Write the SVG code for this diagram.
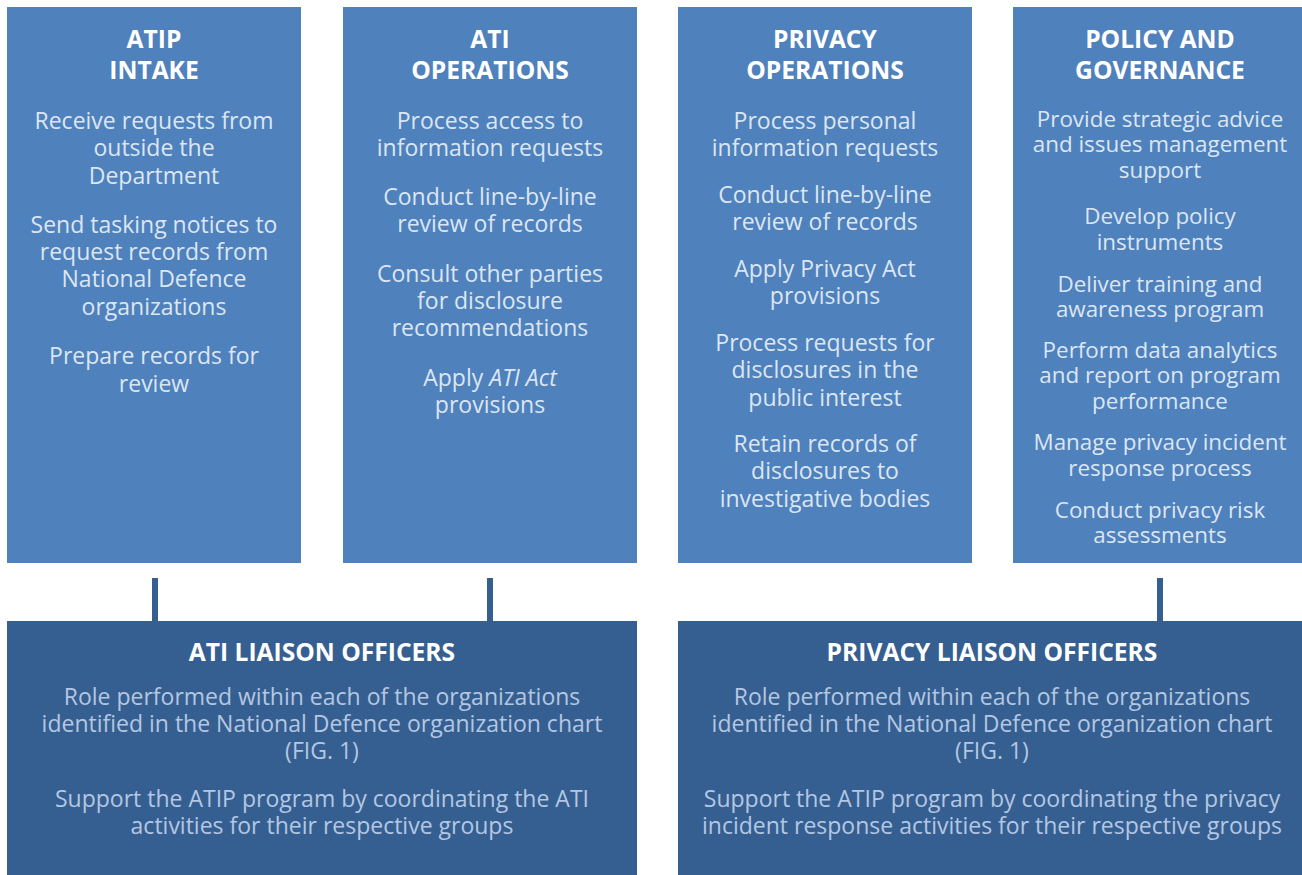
<svg xmlns="http://www.w3.org/2000/svg" width="1302" height="875" viewBox="0 0 1302 875">
  <style>
    .top { fill: #4F81BD; }
    .bottom { fill: #365F91; }
    .title { font-family: "Open Sans", "Liberation Sans", sans-serif; font-weight: 700; font-size: 24.6px; fill: #FFFFFF; text-anchor: middle; }
    .body { font-family: "Open Sans", "Liberation Sans", sans-serif; font-size: 23px; fill: #DCE6F2; text-anchor: middle; }
    .body4 { font-family: "Open Sans", "Liberation Sans", sans-serif; font-size: 22.4px; fill: #DCE6F2; text-anchor: middle; }
    .lbody { font-family: "Open Sans", "Liberation Sans", sans-serif; font-size: 23px; fill: #B4C7E2; text-anchor: middle; }
    .link { stroke: #365F91; stroke-width: 6; fill: none; }
  </style>
  <rect width="1302" height="875" fill="#FFFFFF"/>

  <!-- vertical links from the units down to the liaison officer boxes -->
  <g id="connectors">
    <line class="link" x1="155" y1="578" x2="155" y2="622"/>
    <line class="link" x1="490" y1="578" x2="490" y2="622"/>
    <line class="link" x1="1160" y1="578" x2="1160" y2="622"/>
  </g>

  <g id="atip-intake">
    <rect class="top" x="7" y="7" width="294" height="556"/>
    <text class="title" x="154" y="48">ATIP</text>
    <text class="title" x="154" y="79">INTAKE</text>
    <text class="body" x="154" y="129">Receive requests from</text>
    <text class="body" x="154" y="156">outside the</text>
    <text class="body" x="154" y="184">Department</text>
    <text class="body" x="154" y="233">Send tasking notices to</text>
    <text class="body" x="154" y="260">request records from</text>
    <text class="body" x="154" y="287">National Defence</text>
    <text class="body" x="154" y="315">organizations</text>
    <text class="body" x="154" y="364">Prepare records for</text>
    <text class="body" x="154" y="392">review</text>
  </g>

  <g id="ati-operations">
    <rect class="top" x="343" y="7" width="294" height="556"/>
    <text class="title" x="490" y="48">ATI</text>
    <text class="title" x="490" y="79">OPERATIONS</text>
    <text class="body" x="490" y="129">Process access to</text>
    <text class="body" x="490" y="156">information requests</text>
    <text class="body" x="490" y="205">Conduct line-by-line</text>
    <text class="body" x="490" y="232">review of records</text>
    <text class="body" x="490" y="282">Consult other parties</text>
    <text class="body" x="490" y="309">for disclosure</text>
    <text class="body" x="490" y="336">recommendations</text>
    <text class="body" x="490" y="386">Apply <tspan font-style="italic">ATI Act</tspan></text>
    <text class="body" x="490" y="413">provisions</text>
  </g>

  <g id="privacy-operations">
    <rect class="top" x="678" y="7" width="294" height="556"/>
    <text class="title" x="825" y="48">PRIVACY</text>
    <text class="title" x="825" y="79">OPERATIONS</text>
    <text class="body" x="825" y="129">Process personal</text>
    <text class="body" x="825" y="156">information requests</text>
    <text class="body" x="825" y="203">Conduct line-by-line</text>
    <text class="body" x="825" y="230">review of records</text>
    <text class="body" x="825" y="277">Apply Privacy Act</text>
    <text class="body" x="825" y="304">provisions</text>
    <text class="body" x="825" y="351">Process requests for</text>
    <text class="body" x="825" y="378">disclosures in the</text>
    <text class="body" x="825" y="406">public interest</text>
    <text class="body" x="825" y="452">Retain records of</text>
    <text class="body" x="825" y="479">disclosures to</text>
    <text class="body" x="825" y="507">investigative bodies</text>
  </g>

  <g id="policy-governance">
    <rect class="top" x="1013" y="7" width="289" height="556"/>
    <text class="title" x="1160" y="48">POLICY AND</text>
    <text class="title" x="1160" y="79">GOVERNANCE</text>
    <text class="body4" x="1160" y="127">Provide strategic advice</text>
    <text class="body4" x="1160" y="152">and issues management</text>
    <text class="body4" x="1160" y="178">support</text>
    <text class="body4" x="1160" y="224">Develop policy</text>
    <text class="body4" x="1160" y="250">instruments</text>
    <text class="body4" x="1160" y="292">Deliver training and</text>
    <text class="body4" x="1160" y="317">awareness program</text>
    <text class="body4" x="1160" y="358">Perform data analytics</text>
    <text class="body4" x="1160" y="383">and report on program</text>
    <text class="body4" x="1160" y="409">performance</text>
    <text class="body4" x="1160" y="450">Manage privacy incident</text>
    <text class="body4" x="1160" y="476">response process</text>
    <text class="body4" x="1160" y="518">Conduct privacy risk</text>
    <text class="body4" x="1160" y="543">assessments</text>
  </g>

  <g id="ati-liaison-officers">
    <rect class="bottom" x="7" y="621" width="630" height="254"/>
    <text class="title" x="322" y="661">ATI LIAISON OFFICERS</text>
    <text class="lbody" x="322" y="705">Role performed within each of the organizations</text>
    <text class="lbody" x="322" y="732">identified in the National Defence organization chart</text>
    <text class="lbody" x="322" y="759">(FIG. 1)</text>
    <text class="lbody" x="322" y="807">Support the ATIP program by coordinating the ATI</text>
    <text class="lbody" x="322" y="834">activities for their respective groups</text>
  </g>

  <g id="privacy-liaison-officers">
    <rect class="bottom" x="678" y="621" width="624" height="254"/>
    <text class="title" x="992" y="661">PRIVACY LIAISON OFFICERS</text>
    <text class="lbody" x="992" y="705">Role performed within each of the organizations</text>
    <text class="lbody" x="992" y="732">identified in the National Defence organization chart</text>
    <text class="lbody" x="992" y="759">(FIG. 1)</text>
    <text class="lbody" x="992" y="807">Support the ATIP program by coordinating the privacy</text>
    <text class="lbody" x="992" y="834">incident response activities for their respective groups</text>
  </g>
</svg>
